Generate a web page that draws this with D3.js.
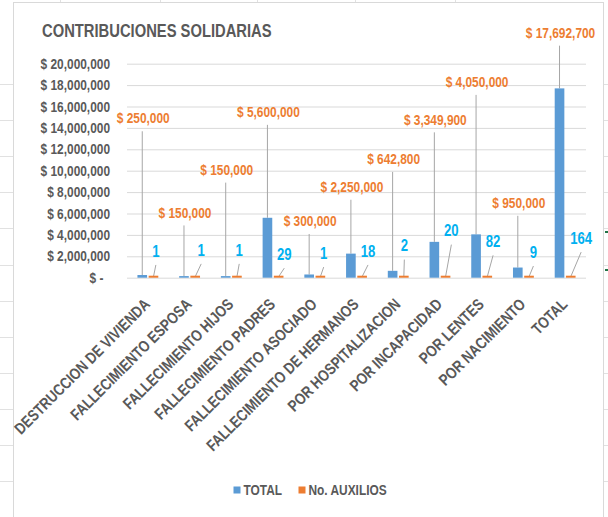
<!DOCTYPE html>
<html>
<head>
<meta charset="utf-8">
<script src="https://cdn.jsdelivr.net/npm/d3@7"></script>
<style>
  html, body { margin: 0; padding: 0; background: #fff; }
  text { font-family: "Liberation Sans Narrow", "Arial Narrow", "Liberation Sans", sans-serif; font-weight: bold; white-space: pre; }
</style>
</head>
<body>
<script>
const WIDTH = 608;
const HEIGHT = 517;

// data
const categories = ["DESTRUCCION DE VIVIENDA", "FALLECIMIENTO ESPOSA", "FALLECIMIENTO HIJOS",
                    "FALLECIMIENTO PADRES", "FALLECIMIENTO ASOCIADO", "FALLECIMIENTO DE HERMANOS",
                    "POR HOSPITALIZACION", "POR INCAPACIDAD", "POR LENTES", "POR NACIMIENTO", "TOTAL"];
const totals = [250000, 150000, 150000, 5600000, 300000, 2250000, 642800, 3349900, 4050000, 950000, 17692700];
const auxilios = [1, 1, 1, 29, 1, 18, 2, 20, 82, 9, 164];
const seriesNames = ["TOTAL", "No. AUXILIOS"];
const yTicks = [0, 2000000, 4000000, 6000000, 8000000, 10000000, 12000000, 14000000, 16000000, 18000000, 20000000];

// where Excel left the dragged data labels (in y-axis units, shifts in px)
const moneyLabelAt = [14.9e6, 6.1e6, 10.1e6, 15.5e6, 5.3e6, 8.5e6, 11.1e6, 14.8e6, 18.3e6, 7.0e6, 22.9e6];
const countLabelAt = [2.5e6, 2.6e6, 2.6e6, 2.2e6, 2.3e6, 2.5e6, 3.0e6, 4.4e6, 3.4e6, 2.4e6, 3.7e6];
const countLabelShift = [2.4, 6, 2.3, 5.6, 3.3, 5.9, 0.5, 5.8, 5.8, 4.4, 10.4];

const COLORS = ["#5B9BD5", "#ED7D31"];
const TEXT_GRAY = "#595959";
const COUNT_BLUE = "#00B0F0";
const PLOT = {left: 127, right: 586, top: 63.7, bottom: 277.7};

const svg = d3.select("body").append("svg")
              .attr("width", WIDTH)
              .attr("height", HEIGHT);

// spreadsheet behind the chart
const sheet = svg.append("g").attr("stroke", "#e1e1e1").attr("stroke-width", 1);
d3.range(84, HEIGHT, 36.1).forEach(yy => {
  sheet.append("line").attr("x1", 0).attr("x2", 13).attr("y1", Math.round(yy) + 0.5).attr("y2", Math.round(yy) + 0.5);
  sheet.append("line").attr("x1", 604).attr("x2", WIDTH).attr("y1", Math.round(yy) + 0.5).attr("y2", Math.round(yy) + 0.5);
});
[60, 160, 257, 355, 455].forEach(xx => {
  sheet.append("line").attr("x1", xx + 0.5).attr("x2", xx + 0.5).attr("y1", 0).attr("y2", 2);
});
[232, 270].forEach(yy => {
  svg.append("line").attr("x1", 605).attr("x2", WIDTH).attr("y1", yy).attr("y2", yy)
     .attr("stroke", "#217346").attr("stroke-width", 2);
});

// chart area
svg.append("rect")
   .attr("x", 13.5).attr("y", 2.5)
   .attr("width", 590).attr("height", HEIGHT + 10)
   .attr("fill", "#fff")
   .attr("stroke", "#d9d9d9");

svg.append("text")
   .attr("x", 42).attr("y", 36.5)
   .attr("fill", TEXT_GRAY)
   .style("font-size", "18px")
   .text("CONTRIBUCIONES SOLIDARIAS");

// scales
const x0 = d3.scaleBand().domain(categories).range([PLOT.left, PLOT.right])
             .paddingInner(0.5).paddingOuter(0.25);
const x1 = d3.scaleBand().domain(seriesNames).range([0, x0.bandwidth()]).paddingInner(0.14);
const y = d3.scaleLinear().domain([0, 20000000]).range([PLOT.bottom, PLOT.top]);

// y axis + gridlines
const yAxis = d3.axisLeft(y)
                .tickValues(yTicks)
                .tickSize(-(PLOT.right - PLOT.left))
                .tickPadding(17)
                .tickFormat(d => d === 0 ? "$ -  " : "$ " + d3.format(",")(d));

const yg = svg.append("g")
              .attr("transform", "translate(" + PLOT.left + ",0)")
              .call(yAxis);
yg.select(".domain").remove();
yg.selectAll(".tick line").attr("stroke", "#d9d9d9");
yg.selectAll(".tick text")
  .attr("fill", TEXT_GRAY)
  .style("font-size", "14.5px")
  .attr("font-family", null);

// x axis (category labels)
const xAxis = d3.axisBottom(x0).tickSize(0).tickPadding(0);
const xg = svg.append("g")
              .attr("transform", "translate(0," + PLOT.bottom + ")")
              .call(xAxis);
xg.select(".domain").remove();
xg.selectAll(".tick text")
  .attr("fill", TEXT_GRAY)
  .attr("text-anchor", "end")
  .attr("y", 0)
  .attr("dy", "0.72em")
  .attr("transform", "translate(-5,19.5) rotate(-45)")
  .style("font-size", "16px")
  .attr("font-family", null);

const rows = categories.map((c, i) => ({
  cat: c, total: totals[i], count: auxilios[i],
  moneyAt: moneyLabelAt[i], countAt: countLabelAt[i], shift: countLabelShift[i]
}));

const blueX = d => x0(d.cat) + x1("TOTAL");
const orangeX = d => x0(d.cat) + x1("No. AUXILIOS");
const bw = x1.bandwidth();

// leader lines
const leaders = svg.append("g").attr("stroke", "#a6a6a6").attr("stroke-width", 1);
leaders.selectAll(".money-leader")
       .data(rows).enter().append("line")
       .attr("x1", d => blueX(d) + bw / 2)
       .attr("x2", d => blueX(d) + bw / 2)
       .attr("y1", d => y(d.moneyAt) + 13)
       .attr("y2", d => y(d.total));
leaders.selectAll(".count-leader")
       .data(rows).enter().append("line")
       .attr("x1", d => orangeX(d) + bw / 2 + d.shift)
       .attr("x2", d => orangeX(d) + bw / 2)
       .attr("y1", d => y(d.countAt) + 14)
       .attr("y2", d => y(0) - 1);

// bars
svg.selectAll(".bar-total")
   .data(rows).enter().append("rect")
   .attr("x", blueX)
   .attr("width", bw)
   .attr("y", d => y(d.total))
   .attr("height", d => y(0) - y(d.total))
   .attr("fill", COLORS[0]);

svg.selectAll(".bar-count")
   .data(rows).enter().append("rect")
   .attr("x", orangeX)
   .attr("width", bw)
   .attr("y", d => y(0) - Math.max(2, y(0) - y(d.count)))
   .attr("height", d => Math.max(2, y(0) - y(d.count)))
   .attr("fill", COLORS[1]);

// data labels
svg.selectAll(".money-label")
   .data(rows).enter().append("text")
   .attr("x", d => blueX(d) + bw / 2 + 1)
   .attr("y", d => y(d.moneyAt))
   .attr("dy", "0.36em")
   .attr("text-anchor", "middle")
   .attr("fill", COLORS[1])
   .style("font-size", "14.5px")
   .text(d => "$ " + d3.format(",")(d.total));

svg.selectAll(".count-label")
   .data(rows).enter().append("text")
   .attr("x", d => orangeX(d) + bw / 2 + d.shift)
   .attr("y", d => y(d.countAt))
   .attr("dy", "0.36em")
   .attr("text-anchor", "middle")
   .attr("fill", COUNT_BLUE)
   .style("font-size", "16px")
   .text(d => d.count);

// legend
const legend = svg.append("g").attr("transform", "translate(233.5,486.5)");
const legendItems = [[0, seriesNames[0]], [65, seriesNames[1]]];
legendItems.forEach(([dx, name], i) => {
  legend.append("rect").attr("x", dx).attr("y", 0).attr("width", 7).attr("height", 7).attr("fill", COLORS[i]);
  legend.append("text").attr("x", dx + 10).attr("y", 8.5)
        .attr("fill", TEXT_GRAY).style("font-size", "14.5px").text(name);
});

// no narrow font installed? squeeze the regular one
const probe = svg.append("text").style("font-size", "100px").text("ABCDEFGHIJ");
const wNarrow = probe.node().getComputedTextLength();
probe.style("font-family", "'Liberation Sans'");
const wWide = probe.node().getComputedTextLength();
probe.remove();
if (wNarrow > wWide * 0.9) {
  svg.selectAll("text").each(function() {
    const len = this.getComputedTextLength();
    d3.select(this).attr("textLength", len * 0.82).attr("lengthAdjust", "spacingAndGlyphs");
  });
}
</script>
</body>
</html>
